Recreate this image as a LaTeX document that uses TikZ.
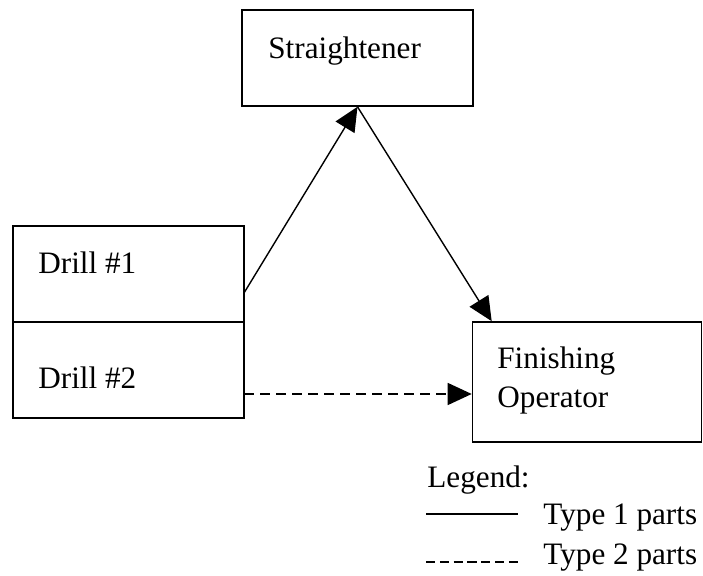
\documentclass[tikz,border=0pt]{standalone}
\usepackage{fontspec}
\setmainfont{Liberation Serif}
\usetikzlibrary{arrows.meta}

\begin{document}
\begin{tikzpicture}[x=0.5pt, y=-0.5pt,
  box/.style={draw, line width=0.8pt, inner sep=0pt, minimum width=115.5pt, minimum height=48pt},
  lbl/.style={anchor=base west, inner sep=0pt, font=\fontsize{15.6}{19.5}\selectfont},
  flow/.style={line width=0.7pt, -{Triangle[length=12pt, width=11pt]}}]
\useasboundingbox (0,0) rectangle (703,576);
\node [box] (str) at (357.5,58) {};
\node [box] (drilla) at (128.5,274) {};
\node [box] (drillb) at (128.5,370) {};
\node [box, minimum width=114.5pt, minimum height=60pt] (fin) at (587,382) {};
\node [lbl] (strtext) at (268,59) {Straightener};
\node [lbl] (drillatext) at (38,274) {Drill \#1};
\node [lbl] (drillbtext) at (38,389) {Drill \#2};
\node [lbl, align=left] (fintext) at (497,408) {Finishing\\Operator};
\coordinate (outa) at (244,293);
\coordinate (outb) at (244,394);
\coordinate (ina) at ([xshift=10pt]fin.north west);
\draw [flow] (outa) -- (str.south);
\draw [flow] (str.south) -- (ina);
\draw [flow, dash pattern=on 5pt off 3pt] (outb) -- (outb -| fin.west);
\node [lbl] (legend) at (427,488) {Legend:};
\coordinate (solida) at (426,514);
\coordinate (solidb) at (518,514);
\coordinate (dasha) at (426,562);
\coordinate (dashb) at (518,562);
\draw [line width=0.7pt] (solida) -- (solidb);
\draw [line width=0.7pt, dash pattern=on 4.6pt off 2.3pt] (dasha) -- (dashb);
\node [lbl] (typea) at (543,525) {Type 1 parts};
\node [lbl] (typeb) at (543,565) {Type 2 parts};
\end{tikzpicture}
\end{document}
